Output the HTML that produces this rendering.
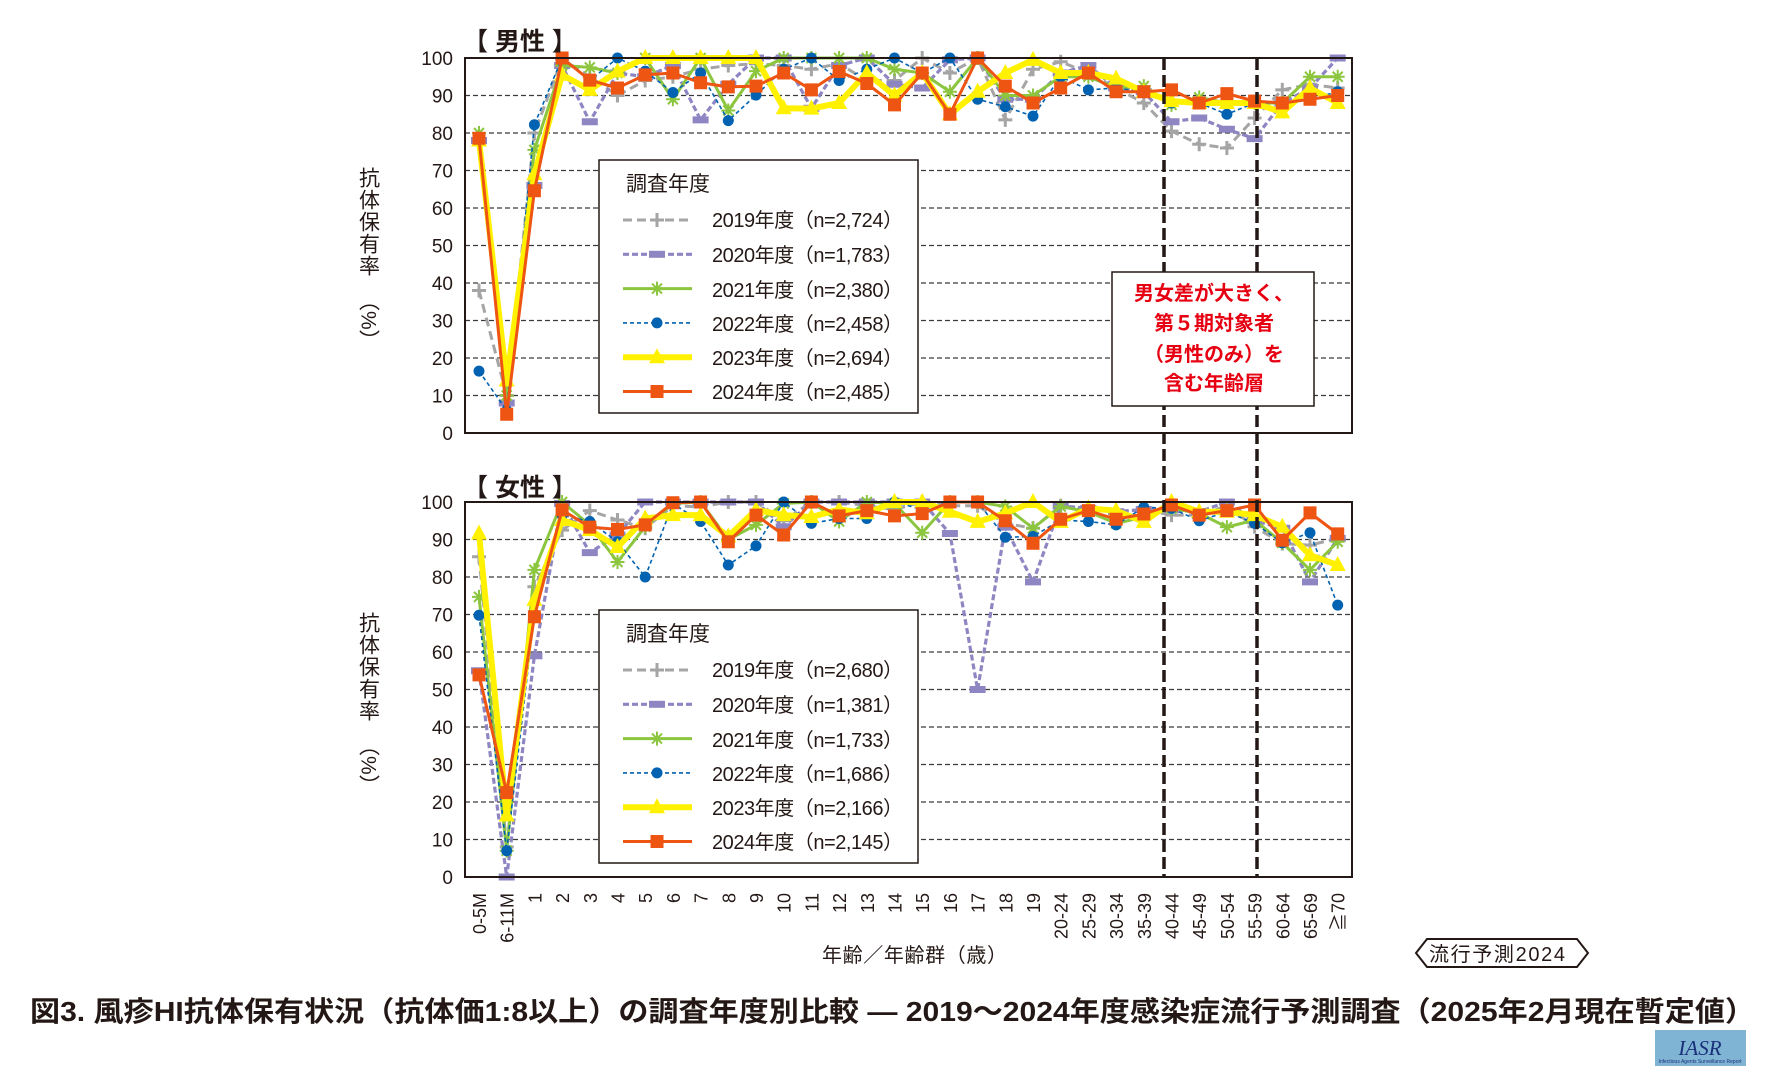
<!DOCTYPE html>
<html><head><meta charset="utf-8"><style>
html,body{margin:0;padding:0;background:#fff;}
svg{display:block;}
text{font-family:"Liberation Sans","Noto Sans CJK JP",sans-serif;fill:#231815;}
</style></head><body>
<svg id="s" width="1776" height="1080" viewBox="0 0 1776 1080" xmlns="http://www.w3.org/2000/svg">
<rect width="1776" height="1080" fill="#fff"/>
<g id="grid"></g>
<g id="series"></g>
<g id="vl"></g>
<!-- Section titles -->
<text x="463" y="50" font-size="25" font-weight="bold">【 男性 】</text>
<text x="463" y="496" font-size="25" font-weight="bold">【 女性 】</text>
<!-- y tick labels -->
<g id="yt" font-size="19" text-anchor="end"></g>
<!-- y axis titles -->
<text x="368" y="167" font-size="21" style="writing-mode:vertical-rl;letter-spacing:1px">抗体保有率</text>
<text x="368" y="290" font-size="21" style="writing-mode:vertical-rl">（%）</text>
<text x="368" y="612" font-size="21" style="writing-mode:vertical-rl;letter-spacing:1px">抗体保有率</text>
<text x="368" y="735" font-size="21" style="writing-mode:vertical-rl">（%）</text>
<!-- x labels -->
<g id="xl" font-size="18" text-anchor="end"></g>
<text x="822" y="962" font-size="20" textLength="185">年齢／年齢群（歳）</text>
<!-- tag -->
<polygon points="1416,953 1427,939 1577,939 1588,953 1577,967 1427,967" fill="#fff" stroke="#231815" stroke-width="2"/>
<text x="1429" y="961" font-size="20" textLength="136">流行予測2024</text>
<!-- caption -->
<text x="30" y="1021" font-size="28" font-weight="bold" textLength="1725" lengthAdjust="spacingAndGlyphs">図3. 風疹HI抗体保有状況（抗体価1:8以上）の調査年度別比較 ― 2019～2024年度感染症流行予測調査（2025年2月現在暫定値）</text>
<!-- logo -->
<rect x="1655" y="1030" width="91" height="36" fill="#7fb4d4"/>
<text x="1700" y="1055" font-size="21" font-style="italic" text-anchor="middle" style="font-family:'Liberation Serif',serif;fill:#1a2f7a">IASR</text>
<text x="1700" y="1063" font-size="5" text-anchor="middle" style="fill:#1a2f7a">Infectious Agents Surveillance Report</text>
<!-- annotation -->
<rect x="1112" y="272" width="202" height="134" fill="#fff" stroke="#231815" stroke-width="1.5"/>
<g font-size="20" font-weight="bold" text-anchor="middle" style="fill:#e60012">
<text x="1214" y="300" style="fill:#e60012">男女差が大きく、</text>
<text x="1214" y="330" style="fill:#e60012">第５期対象者</text>
<text x="1214" y="361" style="fill:#e60012">（男性のみ）を</text>
<text x="1214" y="390" style="fill:#e60012">含む年齢層</text>
</g>
<!-- legends -->
<g id="legM">
<rect x="599" y="160" width="319" height="253" fill="#fff" stroke="#231815" stroke-width="1.5"/>
<text x="626" y="191" font-size="21">調査年度</text>
<text x="712" y="227" font-size="20" textLength="191">2019年度（n=2,724）</text>
<text x="712" y="262" font-size="20" textLength="191">2020年度（n=1,783）</text>
<text x="712" y="297" font-size="20" textLength="191">2021年度（n=2,380）</text>
<text x="712" y="331" font-size="20" textLength="191">2022年度（n=2,458）</text>
<text x="712" y="365" font-size="20" textLength="191">2023年度（n=2,694）</text>
<text x="712" y="399" font-size="20" textLength="191">2024年度（n=2,485）</text>
</g>
<g id="legF">
<rect x="599" y="610" width="319" height="253" fill="#fff" stroke="#231815" stroke-width="1.5"/>
<text x="626" y="641" font-size="21">調査年度</text>
<text x="712" y="677" font-size="20" textLength="191">2019年度（n=2,680）</text>
<text x="712" y="712" font-size="20" textLength="191">2020年度（n=1,381）</text>
<text x="712" y="747" font-size="20" textLength="191">2021年度（n=1,733）</text>
<text x="712" y="781" font-size="20" textLength="191">2022年度（n=1,686）</text>
<text x="712" y="815" font-size="20" textLength="191">2023年度（n=2,166）</text>
<text x="712" y="849" font-size="20" textLength="191">2024年度（n=2,145）</text>
</g>
<g id="legsym"></g>
</svg>
<script>
var NS="http://www.w3.org/2000/svg";
function el(p,t,a){var e=document.createElementNS(NS,t);for(var k in a)e.setAttribute(k,a[k]);p.appendChild(e);return e;}
var L=465,R=1352,panels=[{top:58,bot:433},{top:502,bot:877}];
function cx(i){return 479+27.7*i;}
var grid=document.getElementById('grid'),yt=document.getElementById('yt');
panels.forEach(function(p){
 for(var v=10;v<=90;v+=10){var y=p.bot-(p.bot-p.top)*v/100;el(grid,'line',{x1:L,x2:R,y1:y,y2:y,stroke:'#3a3a3a','stroke-width':1.2,'stroke-dasharray':'5,3'});}
 for(var v=0;v<=100;v+=10){var y=p.bot-(p.bot-p.top)*v/100;var t=el(yt,'text',{x:453,y:y+7});t.textContent=v;}
});
var labels=["0-5M","6-11M","1","2","3","4","5","6","7","8","9","10","11","12","13","14","15","16","17","18","19","20-24","25-29","30-34","35-39","40-44","45-49","50-54","55-59","60-64","65-69","≧70"];
var xl=document.getElementById('xl');
labels.forEach(function(s,i){var x=cx(i)+7;var t=el(xl,'text',{transform:'translate('+x+',893) rotate(-90)'});t.textContent=s;});
var data={
m:{
gray:[38,10,80,99.7,95,90,94,95,97,98,98.5,98,97,98.5,94,94,100,96,100,83.5,97,99,96,92,88,80.5,77,76,84,91.5,93,92],
purple:[78,8,66,98,83,96,95,98,83.5,93,100,100,86.6,98,100,93,92,99.5,100,89,89,96,98,92,91,83,84,81,78.5,88,92,100],
green:[80,10,75.5,98,97.5,96,100,89,100,86,96.5,100,100,100,100,97,96,91,100,90,90,95,95,92,92.5,87.5,89.5,88,88,88,95,95],
blue:[16.5,6,82.2,100,94,100,96.5,90.8,96,83.3,90.1,97,100,94,97,100,96,100,89,87,84.5,95,91.5,92,91,88,88,85,88,88,89,91],
yellow:[78,14,69,95.5,91.5,96.4,100,100,100,100,100,86.6,86.5,88,96,90,96,85,91,96,99.5,96,96,94.5,91,88.5,88,88,88,85.5,92,88],
orange:[78.6,5,64.6,100,94.1,92,95.5,96,93.4,92.3,92.5,96,91.5,96.4,93.2,87.5,96,85,100,92.5,88,92,96,91,91,91.5,88,90.5,88.5,88,89,90]},
f:{
gray:[85.4,8,77.4,92.5,97.7,95.2,93,99,98.7,100,100,95,100,100,99,98,100,99,99,94.3,93,99,98,97.5,98,96.5,96.5,99,93.4,88.9,88.5,90.3],
purple:[55,0,59,99.6,86.5,91.2,100,100,100,100,100,93.4,100,100,100,100,100,91.6,50,93.3,78.7,99,98.3,97.4,98,98,97.4,100,95,93,78.7,90.3],
green:[74.7,7,81.9,100,93.9,84,93.4,99.6,100,90,93.9,99.6,100,94.8,100,99.6,91.8,100,100,98.8,93,98.8,97.4,94.3,96,98.3,97,93.3,95.2,89.1,81.9,89.4],
blue:[69.8,7,70,96.5,94.8,89.4,80,99.6,94.8,83.2,88.3,100,94.3,95.6,95.6,100,98,100,100,90.6,90.8,95.2,94.8,93.9,98.6,98.3,95,97.4,94.3,89.1,91.8,72.5],
yellow:[91.6,16.4,73.9,95.2,92.5,88,95.6,96.5,96.5,90.8,97.9,96.5,96,98,97,100,100,97.4,94.7,97,100,94.7,98.3,97.7,94.7,100,97.4,97.4,96.5,93.4,85.8,83.2],
orange:[53.9,22.5,69.4,97.9,93.3,92.7,93.9,99.8,100,89.4,96.5,91.2,100,96.3,97.7,96.3,96.9,100,100,95,89,95.4,97.7,95.4,96.8,99.2,96.5,97.7,99.2,89.8,97.1,91.5]}};
var st={
gray:{c:'#a5a5a5',w:3,d:'9,5',m:'plus'},
purple:{c:'#8e86c2',w:3.2,d:'6,3',m:'bar'},
green:{c:'#8cc63f',w:3,d:null,m:'star'},
blue:{c:'#0062b1',w:1.6,d:'4,3',m:'circle'},
yellow:{c:'#fff100',w:6,d:null,m:'tri'},
orange:{c:'#ee5412',w:3,d:null,m:'sq'}};
var order=['gray','purple','green','blue','yellow','orange'];
var g=document.getElementById('series');
function marker(p,type,x,y,c){
 if(type==='plus'){el(p,'path',{d:'M'+(x-7)+' '+y+'h14M'+x+' '+(y-7)+'v14',stroke:c,'stroke-width':3});}
 else if(type==='bar'){el(p,'rect',{x:x-8,y:y-3.5,width:16,height:7,fill:c});}
 else if(type==='star'){el(p,'path',{d:'M'+(x-7)+' '+y+'h14M'+x+' '+(y-7)+'v14M'+(x-5)+' '+(y-5)+'l10 10M'+(x+5)+' '+(y-5)+'l-10 10',stroke:c,'stroke-width':2});}
 else if(type==='circle'){el(p,'circle',{cx:x,cy:y,r:5.5,fill:c});}
 else if(type==='tri'){el(p,'polygon',{points:(x)+','+(y-9)+' '+(x+8)+','+(y+6)+' '+(x-8)+','+(y+6),fill:c});}
 else if(type==='sq'){el(p,'rect',{x:x-6.5,y:y-6.5,width:13,height:13,fill:c});}
}
['m','f'].forEach(function(k,pi){
 var p=panels[pi];
 order.forEach(function(n){
  var s=st[n],pts=data[k][n].map(function(v,i){return [cx(i),p.bot-(p.bot-p.top)*v/100];});
  var a={points:pts.map(function(q){return q.join(',')}).join(' '),fill:'none',stroke:s.c,'stroke-width':s.w,'stroke-linejoin':'round'};
  if(s.d)a['stroke-dasharray']=s.d;
  el(g,'polyline',a);
  pts.forEach(function(q){marker(g,s.m,q[0],q[1],s.c);});
 });
 el(g,'rect',{x:L,y:p.top,width:R-L,height:p.bot-p.top,fill:'none',stroke:'#231815','stroke-width':2});
});
var ls=document.getElementById('legsym');
[[220],[670]].forEach(function(b){
 order.forEach(function(n,j){
  var y=b[0]+j*34.3,s=st[n];
  var a={x1:623,x2:692,y1:y,y2:y,stroke:s.c,'stroke-width':s.w};
  if(s.d)a['stroke-dasharray']=s.d;
  el(ls,'line',a);marker(ls,s.m,657,y,s.c);
 });
});
var vl=document.getElementById('vl');
[1164,1257].forEach(function(x){el(vl,'line',{x1:x,x2:x,y1:58,y2:877,stroke:'#231815','stroke-width':3.5,'stroke-dasharray':'12,5'});});
</script>
</body></html>
